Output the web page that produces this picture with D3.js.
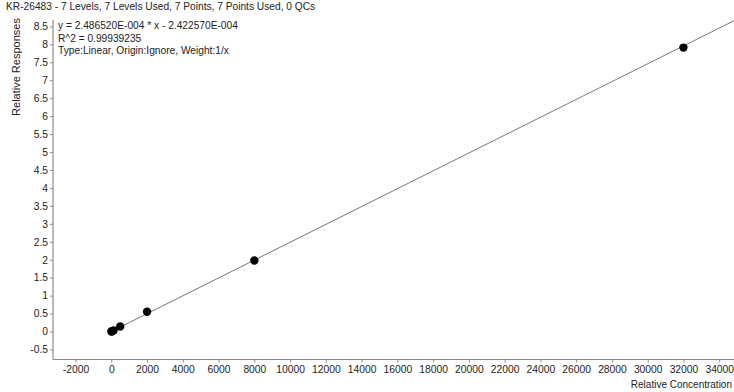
<!DOCTYPE html>
<html><head><meta charset="utf-8">
<script src="https://cdn.jsdelivr.net/npm/d3@7"></script>
<style>
body{margin:0;background:#fff;overflow:hidden}
text{font-family:"Liberation Sans",Arial,sans-serif;}
</style></head>
<body>
<svg id="c" width="734" height="392"></svg>
<script>
const concentrations = [7.8125, 31.25, 125, 500, 2000, 8000, 32000];
const responses = [0.0, 0.008, 0.03, 0.14, 0.55, 1.98, 7.91];
const slope = 2.486520E-004;
const intercept = -2.422570E-004;
const xTicks = d3.range(-2000, 34001, 2000);
const yTicks = d3.range(-0.5, 8.51, 0.5);
const titleText = "KR-26483 - 7 Levels, 7 Levels Used, 7 Points, 7 Points Used, 0 QCs";
const infoLines = ["y = 2.486520E-004 * x  - 2.422570E-004", "R^2 = 0.99939235", "Type:Linear, Origin:Ignore, Weight:1/x"];

const svg = d3.select("#c");
const x = d3.scaleLinear().domain([-3260, 35000]).range([53, 737.1]);
const y = d3.scaleLinear().domain([0, 8.5]).range([331.5, 26.4]);
const yBottom = 359.5, yTop = 20;

const fmt = v => String(Math.round(v*10)/10);

const gx = svg.append("g").attr("transform", `translate(0,${yBottom})`)
  .call(d3.axisBottom(x).tickValues(xTicks).tickSize(3).tickPadding(3).tickFormat(d=>String(d)));
gx.select(".domain").attr("d", `M${x.range()[0]},0H${x.range()[1]}`);
const gy = svg.append("g").attr("transform", `translate(${x.range()[0]},0)`)
  .call(d3.axisLeft(y).tickValues(yTicks).tickSize(3).tickPadding(2).tickFormat(fmt));
gy.select(".domain").attr("d", `M0,${yTop}V${yBottom}`);

[gx, gy].forEach(g=>{
  g.selectAll(".domain").attr("stroke","#8a8a8a").attr("stroke-width",1.2);
  g.selectAll(".tick line").attr("stroke","#8a8a8a");
  g.selectAll("text").attr("fill","#222").style("font-size","10.3px").style("font-family",'"Liberation Sans",Arial,sans-serif');
});

const x0 = 0, x1 = x.domain()[1];
svg.append("line")
  .attr("x1", x(x0)).attr("y1", y(slope*x0+intercept))
  .attr("x2", x(x1)).attr("y2", y(slope*x1+intercept))
  .attr("stroke","#777").attr("stroke-width",1);

svg.append("g").selectAll("circle").data(concentrations).join("circle")
  .attr("cx", d=>x(d)).attr("cy", (d,i)=>y(responses[i])).attr("r",4.2).attr("fill","#000");

svg.append("text").attr("x",6).attr("y",10).attr("fill","#222").style("font-size","10.2px").text(titleText);
svg.selectAll(".info").data(infoLines).join("text").attr("class","info")
  .attr("x",58).attr("y",(d,i)=>29+i*12.5).attr("fill","#222").style("font-size","10.2px").text(d=>d);

svg.append("text").attr("x",732).attr("y",388).attr("text-anchor","end").attr("fill","#222").style("font-size","10px").text("Relative Concentration");
svg.append("text").attr("transform","translate(20,67) rotate(-90)").attr("text-anchor","middle")
  .attr("fill","#222").style("font-size","11px").text("Relative Responses");
</script>
</body></html>
